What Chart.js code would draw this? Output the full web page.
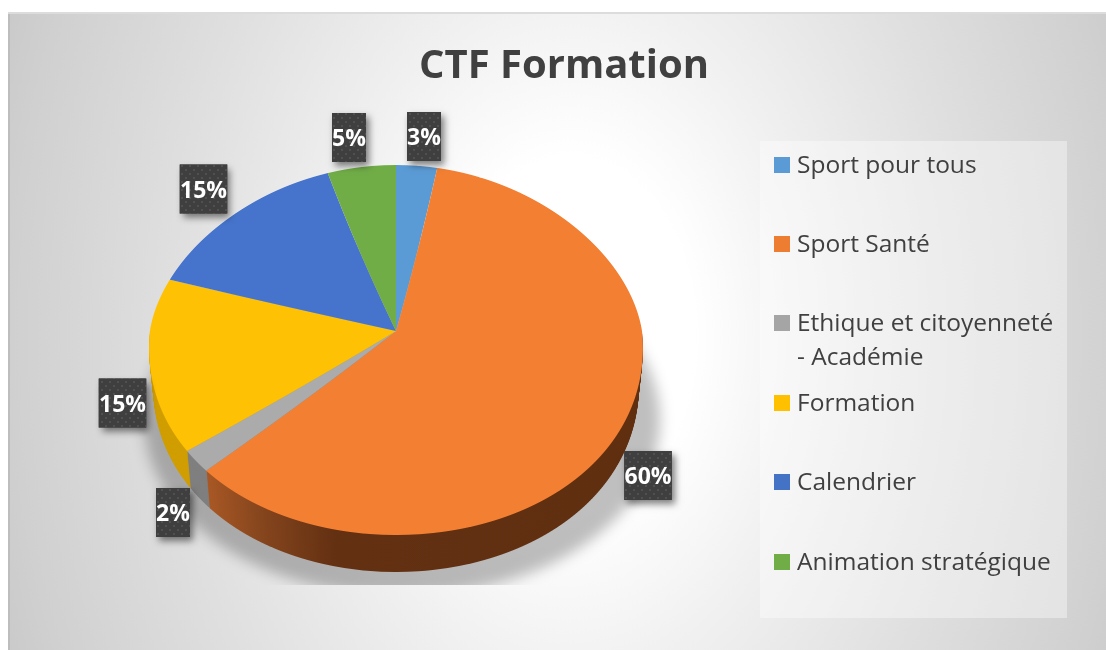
<!DOCTYPE html>
<html><head><meta charset="utf-8">
<style>html,body{margin:0;padding:0;background:#fff}canvas{display:block}</style>
<script src="https://cdn.jsdelivr.net/npm/chart.js@4"></script>
</head><body><canvas id="c" width="1106" height="650"></canvas>
<script>
const chartTitle = 'CTF Formation';
const categories = ['Sport pour tous', 'Sport Santé', 'Ethique et citoyenneté - Académie', 'Formation', 'Calendrier', 'Animation stratégique'];
const legendLines = [['Sport pour tous'], ['Sport Santé'], ['Ethique et citoyenneté', '- Académie'], ['Formation'], ['Calendrier'], ['Animation stratégique']];
const values = [3, 60, 2, 15, 15, 5];
const sliceColors = ['#5B9BD5', '#F38032', '#ABABAB', '#FFC104', '#4674CC', '#70AD47'];
const legendColors = ['#5B9BD5', '#ED7D31', '#A5A5A5', '#FFC000', '#4472C4', '#70AD47'];
const legendRows = [165, 244, 323, 403, 482, 562];
const labelBoxes = [[424,136.5],[648,475.5],[173,512.5],[122.5,403],[203.5,189],[349,137.5]];

const W = 1106, H = 650, CX = 396, CY = 331, R = 246;
const UP = 166 / R, DOWN = 204 / R, DEPTH = 37, BASE_X = 242 / R;
const PERSP_BACK = 0.00065, PERSP_FRONT = 0.00042;
const FONT = '"Open Sans","Noto Sans",sans-serif';

// one horizontal strip of the tilted pie: the width grows toward the viewer
function strip(ctx, row, h, dy, sx, fn) {
  const flat = row + h / 2 - dy;
  const sy = flat < CY ? UP : DOWN;
  const persp = flat < CY ? PERSP_BACK : PERSP_FRONT;
  ctx.save();
  ctx.beginPath();
  ctx.rect(0, row, W, h);
  ctx.clip();
  ctx.translate(CX, CY + dy);
  ctx.scale(sx * (1 + (flat - CY) * persp), sy);
  ctx.translate(-CX, -CY);
  fn();
  ctx.restore();
}

function paintWith(ctx, el, fill) {
  const o = el.options, b = o.backgroundColor, c = o.borderColor, w = o.borderWidth;
  o.backgroundColor = fill; o.borderColor = fill; o.borderWidth = 0;
  el.draw(ctx);
  o.backgroundColor = b; o.borderColor = c; o.borderWidth = w;
}

const pie3d = {
  id: 'pie3d',
  beforeDraw(chart) {
    const ctx = chart.ctx;
    ctx.save();
    ctx.fillStyle = '#fff';
    ctx.fillRect(0, 0, W, H);
    ctx.save();
    ctx.beginPath(); ctx.rect(8, 12, W - 8, H - 12); ctx.clip();
    ctx.translate(570, 335);
    ctx.scale(1, 800 / 560);
    const g = ctx.createRadialGradient(0, 0, 0, 0, 0, 620);
    g.addColorStop(0, '#ffffff');
    g.addColorStop(0.2, '#ffffff');
    g.addColorStop(0.38, '#f1f1f1');
    g.addColorStop(0.63, '#e0e0e0');
    g.addColorStop(0.9, '#d0d0d0');
    g.addColorStop(1, '#c8c8c8');
    ctx.fillStyle = g;
    ctx.fillRect(-700, -700, 1500, 1500);
    ctx.restore();
    ctx.fillStyle = '#dcdcdc';
    ctx.fillRect(8, 12, W - 8, 2);
    ctx.fillStyle = '#bdbdbd';
    ctx.fillRect(8, 14, 2, H - 14);

    // legend panel
    ctx.fillStyle = 'rgba(255,255,255,0.38)';
    ctx.fillRect(760, 141, 307, 477);

    // title
    ctx.fillStyle = '#404040';
    ctx.font = 'bold 40px ' + FONT;
    ctx.textAlign = 'center';
    ctx.textBaseline = 'middle';
    ctx.fillText(chartTitle, 564, 67);

    // legend
    ctx.font = '24.5px ' + FONT;
    ctx.textAlign = 'left';
    legendLines.forEach((lines, i) => {
      const y = legendRows[i];
      ctx.fillStyle = legendColors[i];
      ctx.fillRect(774, y - 8, 16, 16);
      ctx.fillStyle = '#404040';
      lines.forEach((t, k) => ctx.fillText(t, 797, y + 1 + k * 34));
    });
    ctx.restore();
  },
  beforeDatasetDraw(chart, args) {
    const ctx = chart.ctx, arcs = args.meta.data;
    // soft ground shadow, cut off along its lower edge
    ctx.save();
    ctx.beginPath(); ctx.rect(0, 0, W, 585); ctx.clip();
    ctx.filter = 'blur(7px)';
    ctx.fillStyle = 'rgba(0,0,0,0.25)';
    ctx.beginPath();
    ctx.ellipse(402, 420, 258, 176, 0, 0, Math.PI * 2);
    ctx.fill();
    ctx.restore();

    // side wall: front slices only, lower half only
    const orange = ctx.createLinearGradient(205, 0, 640, 0);
    orange.addColorStop(0, '#B05C26');
    orange.addColorStop(0.15, '#85451D');
    orange.addColorStop(0.31, '#633012');
    orange.addColorStop(1, '#5F2F10');
    const sideFill = { 1: orange, 2: '#7F7F7F', 3: '#D09E02' };
    for (let d = DEPTH; d >= 1; d--) {
      const sx = 1 + (BASE_X - 1) * d / DEPTH;
      for (let row = CY + d; row < CY + d + 206; row += 2) {
        strip(ctx, row, 2, d, sx, () => {
          for (const i of [1, 2, 3]) paintWith(ctx, arcs[i], sideFill[i]);
        });
      }
    }
    // top face
    for (let row = CY - 170; row < CY + 208; row++) {
      strip(ctx, row, 1, 0, 1, () => arcs.forEach(el => el.draw(ctx)));
    }
    return false;
  },
  afterDraw(chart) {
    const ctx = chart.ctx;
    const tile = document.createElement('canvas');
    tile.width = tile.height = 8;
    const t = tile.getContext('2d');
    t.fillStyle = '#3F3F3F'; t.fillRect(0, 0, 8, 8);
    t.fillStyle = '#505050';
    t.fillRect(1, 1, 2, 2); t.fillRect(5, 5, 2, 2);
    const pattern = ctx.createPattern(tile, 'repeat');
    ctx.save();
    ctx.textAlign = 'center';
    ctx.textBaseline = 'middle';
    values.forEach((v, i) => {
      const text = v + '%';
      const [x, y] = labelBoxes[i];
      ctx.font = 'bold 23px ' + FONT;
      const w = (v >= 10 ? 47.5 : 34), h = 49;
      ctx.save();
      ctx.shadowColor = 'rgba(0,0,0,0.5)';
      ctx.shadowBlur = 7; ctx.shadowOffsetX = 3; ctx.shadowOffsetY = 4;
      ctx.fillStyle = '#3F3F3F';
      ctx.fillRect(x - w / 2, y - h / 2, w, h);
      ctx.restore();
      ctx.fillStyle = pattern;
      ctx.fillRect(x - w / 2, y - h / 2, w, h);
      ctx.fillStyle = '#fff';
      ctx.fillText(text, x, y + 2);
    });
    ctx.restore();
  }
};

new Chart(document.getElementById('c'), {
  type: 'pie',
  data: {
    labels: categories,
    datasets: [{ data: values, backgroundColor: sliceColors, borderWidth: 0, hoverOffset: 0 }]
  },
  plugins: [pie3d],
  options: {
    responsive: false,
    animation: false,
    layout: { padding: { left: CX - R, right: W - CX - R, top: CY - R, bottom: H - CY - R } },
    plugins: { legend: { display: false }, tooltip: { enabled: false }, title: { display: false } }
  }
});
</script></body></html>
